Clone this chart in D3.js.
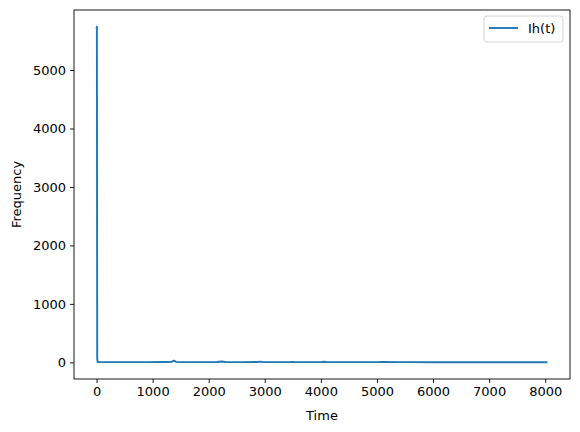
<!DOCTYPE html>
<html>
<head>
<meta charset="utf-8">
<script src="https://cdn.jsdelivr.net/npm/d3@7"></script>
<style>
  body { margin: 0; background: #fff; }
  text { font-family: "DejaVu Sans", sans-serif; }
</style>
</head>
<body>
<div id="chart"></div>
<script>
// valores
const times = [0, 6, 12, 20, 60, 300, 600, 900, 1200, 1340, 1380, 1420, 1460, 1800, 2150, 2230, 2300, 2600, 2870, 2915, 2960, 3200, 3450, 3490, 3540, 3800, 4020, 4060, 4110, 4400, 4700, 5000, 5100, 5400, 5600, 6000, 6500, 7000, 7500, 8040];
const ihValues = [5700, 5740, 60, 6, 4, 3, 3, 4, 5, 8, 30, 8, 4, 3, 6, 15, 5, 3, 6, 12, 5, 3, 4, 8, 4, 3, 5, 9, 4, 3, 3, 4, 5, 3, 3, 2, 2, 2, 2, 2];
const xTicks = [0, 1000, 2000, 3000, 4000, 5000, 6000, 7000, 8000];
const yTicks = [0, 1000, 2000, 3000, 4000, 5000];
const seriesName = "Ih(t)";

const width = 580, height = 432;
const margin = { left: 74, right: 10, top: 10, bottom: 53 };
const plotW = width - margin.left - margin.right;
const plotH = height - margin.top - margin.bottom;
const color = "#1f77b4";
const fontSize = 13;

const svg = d3.select("#chart").append("svg")
  .attr("width", width)
  .attr("height", height);

svg.append("rect").attr("width", width).attr("height", height).attr("fill", "#fff");

// margens de 5% como no matplotlib
const xMin = d3.min(times), xMax = d3.max(times);
const yMin = d3.min(ihValues), yMax = d3.max(ihValues);
const xPad = (xMax - xMin) * 0.05, yPad = (yMax - yMin) * 0.05;

const x = d3.scaleLinear().domain([xMin - xPad, xMax + xPad]).range([0, plotW]);
const y = d3.scaleLinear().domain([yMin - yPad, yMax + yPad]).range([plotH, 0]);

const g = svg.append("g").attr("transform", `translate(${margin.left},${margin.top})`);

const xAxis = g.append("g")
  .attr("transform", `translate(0,${plotH})`)
  .call(d3.axisBottom(x).tickValues(xTicks).tickFormat(d3.format("d")).tickSize(4).tickPadding(4));

const yAxis = g.append("g")
  .call(d3.axisLeft(y).tickValues(yTicks).tickFormat(d3.format("d")).tickSize(4).tickPadding(4));

[xAxis, yAxis].forEach(a => {
  a.select(".domain").remove();
  a.selectAll("line").attr("stroke", "#000").attr("stroke-width", 0.9);
  a.selectAll("text").attr("font-size", fontSize).attr("fill", "#000");
});

// linha
const line = d3.line().x((d, i) => x(times[i])).y(d => y(d));
g.append("path")
  .datum(ihValues)
  .attr("fill", "none")
  .attr("stroke", color)
  .attr("stroke-width", 1.9)
  .attr("stroke-linejoin", "round")
  .attr("d", line);

// moldura
g.append("rect")
  .attr("width", plotW).attr("height", plotH)
  .attr("fill", "none").attr("stroke", "#000").attr("stroke-width", 0.9);

// rótulos dos eixos
svg.append("text")
  .attr("x", margin.left + plotW / 2).attr("y", 420)
  .attr("text-anchor", "middle").attr("font-size", fontSize)
  .text("Time");

svg.append("text")
  .attr("transform", `translate(21,${margin.top + plotH / 2}) rotate(-90)`)
  .attr("text-anchor", "middle").attr("font-size", fontSize)
  .text("Frequency");

// legenda
const leg = g.append("g").attr("transform", `translate(${plotW - 86},6)`);
leg.append("rect")
  .attr("width", 79).attr("height", 26).attr("rx", 3)
  .attr("fill", "#fff").attr("fill-opacity", 0.8)
  .attr("stroke", "#d0d0d0").attr("stroke-width", 0.9);
leg.append("line")
  .attr("x1", 5).attr("x2", 34).attr("y1", 12).attr("y2", 12)
  .attr("stroke", color).attr("stroke-width", 1.9);
leg.append("text")
  .attr("x", 44).attr("y", 17)
  .attr("font-size", fontSize)
  .text(seriesName);
</script>
</body>
</html>
